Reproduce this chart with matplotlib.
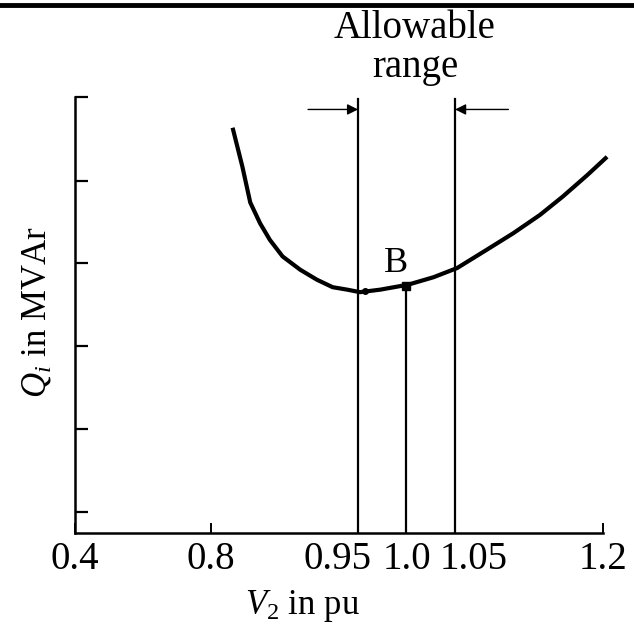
import matplotlib
matplotlib.use("Agg")
import matplotlib.pyplot as plt
from matplotlib.lines import Line2D
from matplotlib.transforms import ScaledTranslation
import numpy as np

# tick values and where they sit along the (non-uniform) x axis
x_ticks = [0.4, 0.8, 0.95, 1.0, 1.05, 1.2]
x_tick_pos = [0.0, 136.0, 283.0, 331.0, 380.0, 528.0]
x_tick_labels = ["0.4", "0.8", "0.95", "1.0", "1.05", "1.2"]
# the crowded labels are nudged sideways in the original (pixels)
x_label_shift = [0, 0, -21, 1, 19, 0]

# Q_i vs V_2 curve (arbitrary units)
v2 = [0.822, 0.832, 0.840, 0.850, 0.860, 0.873, 0.891, 0.908, 0.924, 0.939, 0.952,
      0.973, 1.002, 1.028, 1.052, 1.082, 1.109, 1.136, 1.159, 1.184, 1.204]
qi = [4.88, 4.41, 3.98, 3.73, 3.53, 3.33, 3.17, 3.05, 2.96, 2.93, 2.90,
      2.93, 2.99, 3.08, 3.19, 3.41, 3.61, 3.83, 4.05, 4.31, 4.53]

y_ticks = [0.25, 1.25, 2.25, 3.25, 4.24, 5.25]

v_low, v_high = 0.95, 1.05
v_b, q_b = 1.0, 2.98
v_min, q_min = 0.957, 2.91


def _lin(x, xs, ys):
    # piecewise linear, extended linearly past both ends
    xs = np.asarray(xs)
    ys = np.asarray(ys)
    out = np.interp(x, xs, ys)
    out = np.where(x < xs[0], ys[0] + (x - xs[0]) * (ys[1] - ys[0]) / (xs[1] - xs[0]), out)
    out = np.where(x > xs[-1], ys[-1] + (x - xs[-1]) * (ys[-1] - ys[-2]) / (xs[-1] - xs[-2]), out)
    return out


def fwd(x):
    return _lin(np.asarray(x, dtype=float), x_ticks, x_tick_pos)


def inv(p):
    return _lin(np.asarray(p, dtype=float), x_tick_pos, x_ticks)


plt.rcParams["font.family"] = ["Liberation Serif", "DejaVu Serif"]
plt.rcParams["mathtext.fontset"] = "custom"
plt.rcParams["mathtext.rm"] = "Liberation Serif"
plt.rcParams["mathtext.it"] = "Liberation Serif:italic"

W, H = 634, 630
fig = plt.figure(figsize=(W / 100, H / 100), dpi=100)
ax = fig.add_axes([75 / W, 1 - 533 / H, (613 - 75) / W, (533 - 97) / H])
ax.set_xscale("function", functions=(fwd, inv))
ax.set_xlim(0.4, 1.21)
ax.set_ylim(0, 5.25)

lw = 1.6
ax.plot(v2, qi, color="black", lw=3.0, solid_capstyle="butt")
ax.plot([v_low, v_low], [0, 5.22], color="black", lw=lw)
ax.plot([v_high, v_high], [0, 5.22], color="black", lw=lw)
ax.plot([v_b, v_b], [0, q_b], color="black", lw=lw)
ax.plot([v_b], [q_b], marker="s", ms=6, color="black")
ax.plot([v_min], [q_min], marker="o", ms=4, color="black")
ax.text(0.989, 3.05, "B", fontsize=26, ha="center", va="bottom")

# allowable range arrows
ax.annotate("", xy=(v_low, 5.10), xytext=(0.899, 5.10),
            arrowprops=dict(arrowstyle="-|>", color="black", lw=1.0,
                            mutation_scale=16, shrinkA=0, shrinkB=0))
ax.annotate("", xy=(v_high, 5.10), xytext=(1.104, 5.10),
            arrowprops=dict(arrowstyle="-|>", color="black", lw=1.0,
                            mutation_scale=16, shrinkA=0, shrinkB=0))

fig.text(415 / W, 1 - 48 / H, "Allowable\nrange", ha="center", va="center",
         fontsize=28, linespacing=1.05)

for s in ["top", "right"]:
    ax.spines[s].set_visible(False)
for s in ["left", "bottom"]:
    ax.spines[s].set_linewidth(1.8)
ax.spines["bottom"].set_bounds(0.4, 1.2)

ax.set_xticks(x_ticks)
ax.set_xticklabels(x_tick_labels)
ax.set_yticks(y_ticks)
ax.set_yticklabels([])
ax.tick_params(axis="y", direction="in", length=9, width=1.6)
ax.tick_params(axis="x", direction="in", length=7, width=1.4, labelsize=28, pad=6)
for lbl, dx in zip(ax.get_xticklabels(), x_label_shift):
    lbl.set_transform(lbl.get_transform() + ScaledTranslation(dx / 100, 0, fig.dpi_scale_trans))

fig.text(302 / W, 1 - 606 / H, r"$V_2$ in pu", fontsize=25, ha="center", va="center")
fig.text(37 / W, 1 - 312 / H, r"$Q_i$ in MVAr", fontsize=25, ha="center", va="center",
         rotation=90)

fig.add_artist(Line2D([0, 1], [1 - 5 / H, 1 - 5 / H], color="black", lw=3.5))

fig.savefig("out.png", dpi=100)
